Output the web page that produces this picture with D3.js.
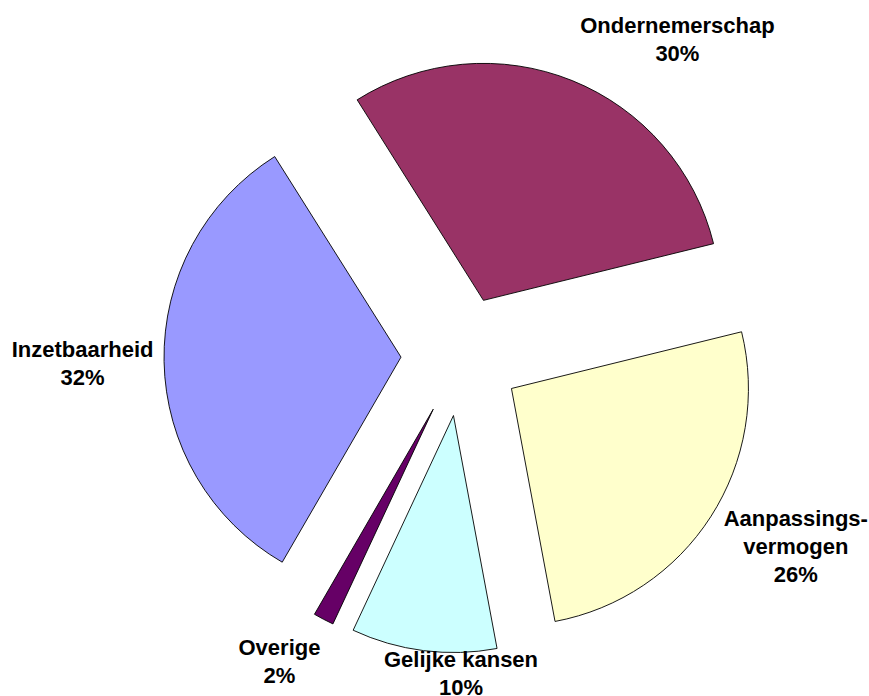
<!DOCTYPE html>
<html>
<head>
<meta charset="utf-8">
<script src="https://cdn.jsdelivr.net/npm/d3@7"></script>
<style>
  html, body { margin: 0; padding: 0; background: #fff; }
  svg { display: block; }
  .lbl { font-family: Arial, "Liberation Sans", sans-serif; font-weight: bold; font-size: 22px; fill: #000; }
</style>
</head>
<body>
<div id="chart"></div>
<script>
// data
var categories = ['Ondernemerschap', 'Aanpassingsvermogen', 'Gelijke kansen', 'Overige', 'Inzetbaarheid'];
var labelLines = [['Ondernemerschap'], ['Aanpassings-', 'vermogen'], ['Gelijke kansen'], ['Overige'], ['Inzetbaarheid']];
var values = [30.1, 25.9, 9.9, 1.4, 32.7];          // slice sizes
var percentLabels = ['30%', '26%', '10%', '2%', '32%']; // as printed on the chart
var colors = ['#993366', '#FFFFCC', '#CCFFFF', '#660066', '#9999FF'];

// layout
var width = 869, height = 696;
var cx = 461, cy = 356;
var radius = 237, explode = 60;
var startDeg = -32.2;
var labelAngle = [34.3, 119.6, 180, 210.8, 269.0];   // degrees, clockwise from 12 o'clock
var labelRadius = [384, 385, 317, 354.5, 378.5];
var lineHeight = 28;

var svg = d3.select('#chart').append('svg')
    .attr('width', width)
    .attr('height', height);

var g = svg.append('g')
    .attr('transform', 'translate(' + cx + ',' + cy + ')');

var pie = d3.pie()
    .sort(null)
    .value(function (d) { return d; })
    .startAngle(startDeg * Math.PI / 180)
    .endAngle((startDeg + 360) * Math.PI / 180);

var arc = d3.arc()
    .innerRadius(0)
    .outerRadius(radius);

var arcs = pie(values);

g.selectAll('path.slice')
    .data(arcs)
    .enter()
    .append('path')
    .attr('class', 'slice')
    .attr('d', arc)
    .attr('fill', function (d, i) { return colors[i]; })
    .attr('stroke', '#000')
    .attr('stroke-width', 0.9)
    .attr('transform', function (d) {
        var a = (d.startAngle + d.endAngle) / 2;
        return 'translate(' + (explode * Math.sin(a)) + ',' + (-explode * Math.cos(a)) + ')';
    });

// labels
var labels = g.selectAll('text.lbl')
    .data(arcs)
    .enter()
    .append('text')
    .attr('class', 'lbl')
    .attr('text-anchor', 'middle')
    .attr('transform', function (d, i) {
        var a = labelAngle[i] * Math.PI / 180;
        return 'translate(' + (labelRadius[i] * Math.sin(a)) + ',' + (-labelRadius[i] * Math.cos(a)) + ')';
    });

labels.each(function (d, i) {
    var lines = labelLines[i].concat([percentLabels[i]]);
    var n = lines.length;
    d3.select(this).selectAll('tspan')
        .data(lines)
        .enter()
        .append('tspan')
        .attr('x', 0)
        .attr('y', function (t, j) { return (j - (n - 1) / 2) * lineHeight + 8; })
        .text(function (t) { return t; });
});
</script>
</body>
</html>
